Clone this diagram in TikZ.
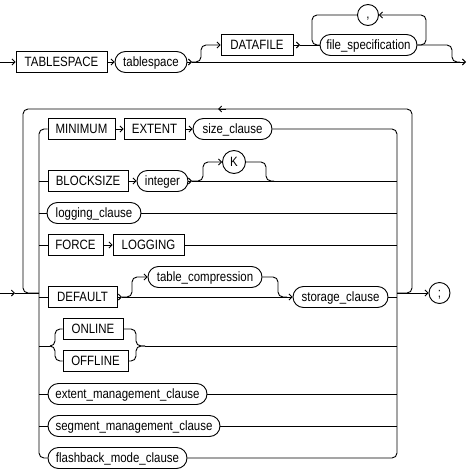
\documentclass[tikz,border=0pt]{standalone}
\usepackage{fontspec}
\setmainfont{Liberation Sans}[FakeStretch=0.85]
\usetikzlibrary{arrows.meta}
\begin{document}
\begin{tikzpicture}[x=1pt,y=-1pt,line width=0.9pt,
  >={Straight Barb[length=3pt,width=6pt]},
  every node/.style={font=\fontsize{13.5}{15}\selectfont, text height=9pt, text depth=1pt, inner sep=0pt, line width=0.9pt},
  term/.style={draw, rectangle, minimum height=21pt, fill=white},
  nonterm/.style={draw, rectangle, rounded corners=10.5pt, minimum height=21pt, fill=white},
  circ/.style={draw, circle, minimum size=21pt, fill=white},
  rc/.style={rounded corners=5pt}]
\fill[white] (0,0) rectangle (468,471);
\useasboundingbox (0,0) rectangle (468,471);

% ---------- top diagram ----------
\node[term, minimum width=91pt] (tbs) at (61.5,62) {TABLESPACE};
\node[nonterm, minimum width=72pt] (tsp) at (151,62) {tablespace};
\node[term, minimum width=72pt] (dat) at (257,45) {DATAFILE};
\node[nonterm, minimum width=97pt] (fs) at (368.5,45) {file\_specification};
\node[circ] (comma) at (368,15) {,};

\coordinate (in1) at (0,62);
\coordinate (j1) at (192,62);
\coordinate (out1) at (466,62);
\coordinate (j1b) at (300,45);

\draw[->] (in1) -- (tbs.west);
\draw[->] (tbs.east) -- (tsp.west);
\draw[->] (tsp.east) -- (j1);
\draw[->] (j1) -- (out1);
\draw[->,rc] (j1) -- (201,62) -- (201,45) -- (dat.west);
\draw[->] (dat.east) -- (j1b);
\draw (j1b) -- (fs.west);
\draw[->,rc] (fs.east) -- (426,45) -- (426,15) -- (comma.east);
\draw[rc] (comma.west) -- (312,15) -- (312,45) -- (fs.west);
\draw[rc] (fs.east) -- (452,45) -- (452,62) -- (460,62);

% ---------- bottom diagram ----------
\node[term, minimum width=67pt] (min) at (81.5,129) {MINIMUM};
\node[term, minimum width=61pt] (ext) at (154.5,129) {EXTENT};
\node[nonterm, minimum width=79pt] (size) at (232.5,129) {size\_clause};

\node[term, minimum width=80pt] (blk) at (88,181) {BLOCKSIZE};
\node[nonterm, minimum width=51pt] (int) at (162.5,181) {integer};
\node[circ, minimum size=23pt] (K) at (234,162) {K};

\node[nonterm, minimum width=94pt] (log) at (94,213) {logging\_clause};

\node[term, minimum width=55pt] (force) at (75.5,245) {FORCE};
\node[term, minimum width=71pt] (lg) at (148.5,245) {LOGGING};

\node[term, minimum width=69pt] (def) at (82.5,297) {DEFAULT};
\node[nonterm, minimum width=114pt] (tc) at (205,277) {table\_compression};
\node[nonterm, minimum width=95pt] (stc) at (340.5,297) {storage\_clause};

\node[term, minimum width=60pt] (on) at (93,329) {ONLINE};
\node[term, minimum width=65pt] (off) at (95.5,361) {OFFLINE};

\node[nonterm, minimum width=159pt] (emc) at (127.5,394) {extent\_management\_clause};
\node[nonterm, minimum width=172pt] (smc) at (134,426) {segment\_management\_clause};
\node[nonterm, minimum width=139pt] (fb) at (117.5,458) {flashback\_mode\_clause};

\node[circ] (semi) at (439.5,293) {;};

\coordinate (in2) at (0,293);
\coordinate (a2) at (15,293);
\coordinate (j2) at (192,181);
\coordinate (j5) at (122,297);
\coordinate (m6) at (50,346);
\coordinate (n6) at (145,346);

% outer loop, entry and exit
\draw[rc] (397,293) -- (412,293) -- (412,109) -- (23,109) -- (23,293) -- (39,293);
\draw[->] (226,109) -- (218,109);
\draw[->] (in2) -- (a2);
\draw (a2) -- (39,293);
\draw[->] (397,293) -- (semi.west);

% inner rails
\draw[rc] (min.west) -- (39,129) -- (39,458) -- (fb.west);
\draw[rc] (size.east) -- (397,129) -- (397,458) -- (fb.east);

% row 1
\draw[->] (min.east) -- (ext.west);
\draw[->] (ext.east) -- (size.west);
% row 2
\draw (39,181) -- (blk.west);
\draw[->] (blk.east) -- (int.west);
\draw[->] (int.east) -- (j2);
\draw (j2) -- (397,181);
\draw[->,rc] (j2) -- (203,181) -- (203,162) -- (K.west);
\draw[rc] (K.east) -- (266,162) -- (266,181) -- (274,181);
% row 3
\draw (39,213) -- (log.west);
\draw (log.east) -- (397,213);
% row 4
\draw (39,245) -- (force.west);
\draw[->] (force.east) -- (lg.west);
\draw (lg.east) -- (397,245);
% row 5
\draw (39,297) -- (def.west);
\draw[->] (def.east) -- (j5);
\draw[->] (j5) -- (stc.west);
\draw[->,rc] (j5) -- (132,297) -- (132,277) -- (tc.west);
\draw[rc] (tc.east) -- (278,277) -- (278,297) -- (287,297);
\draw (stc.east) -- (397,297);
% row 6
\draw (39,346) -- (m6);
\draw[rc] (m6) -- (55,346) -- (55,329) -- (on.west);
\draw[rc] (m6) -- (55,346) -- (55,361) -- (off.west);
\draw[rc] (on.east) -- (136,329) -- (136,346) -- (n6);
\draw[rc] (off.east) -- (136,361) -- (136,346) -- (n6);
\draw (n6) -- (397,346);
% rows 7-9
\draw (39,394) -- (emc.west);
\draw (emc.east) -- (397,394);
\draw (39,426) -- (smc.west);
\draw (smc.east) -- (397,426);
\end{tikzpicture}
\end{document}
